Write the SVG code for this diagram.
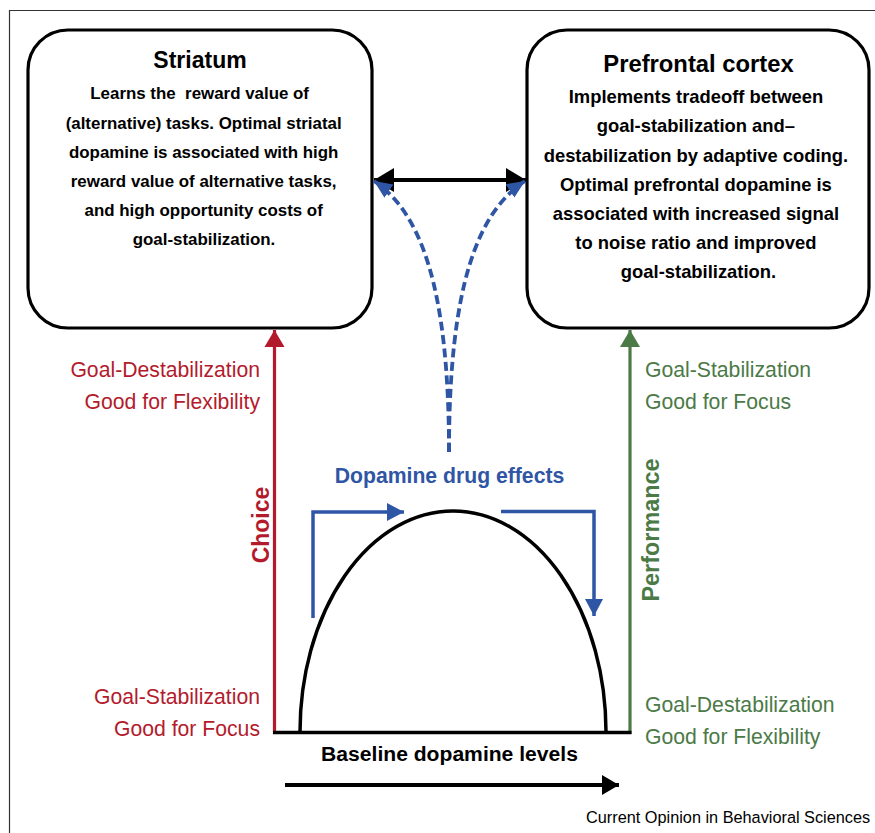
<svg xmlns="http://www.w3.org/2000/svg" width="875" height="833" viewBox="0 0 875 833">
<style>
.box{fill:#fff;stroke:#000;stroke-width:3.2}
.t{font-family:"Liberation Sans",Arial,sans-serif;font-weight:bold;fill:#000;text-anchor:middle}
.lab{font-family:"Liberation Sans",Arial,sans-serif;font-size:21.2px}
.red{fill:#b31b2d}
.green{fill:#4b7a47}
.blue{fill:#2f55a5}
</style>
<defs>
<marker id="hBlack" markerUnits="userSpaceOnUse" markerWidth="22" markerHeight="26" refX="20" refY="12" orient="auto-start-reverse" viewBox="0 0 22 24">
<path d="M0,0 L20,12 L0,24 z" fill="#000"/>
</marker>
<marker id="hBlue" markerUnits="userSpaceOnUse" markerWidth="20" markerHeight="18" refX="18" refY="8" orient="auto" viewBox="0 0 20 16">
<path d="M0,0 L18,8 L0,16 z" fill="#2f55a5"/>
</marker>
<marker id="hBlueStep" markerUnits="userSpaceOnUse" markerWidth="18" markerHeight="20" refX="17" refY="9" orient="auto" viewBox="0 0 18 18">
<path d="M0,0 L17,9 L0,18 z" fill="#2f55a5"/>
</marker>
<marker id="hRed" markerUnits="userSpaceOnUse" markerWidth="18" markerHeight="22" refX="17" refY="10" orient="auto" viewBox="0 0 18 20">
<path d="M0,0 L17,10 L0,20 z" fill="#b31b2d"/>
</marker>
<marker id="hGreen" markerUnits="userSpaceOnUse" markerWidth="18" markerHeight="22" refX="17" refY="10" orient="auto" viewBox="0 0 18 20">
<path d="M0,0 L17,10 L0,20 z" fill="#4b7a47"/>
</marker>
<marker id="hAxis" markerUnits="userSpaceOnUse" markerWidth="18" markerHeight="22" refX="17" refY="10" orient="auto" viewBox="0 0 18 20">
<path d="M0,0 L17,10 L0,20 z" fill="#000"/>
</marker>
</defs>
<rect width="875" height="833" fill="#fff"/>
<path d="M9.5,833 V10.5 H875" fill="none" stroke="#333" stroke-width="1.2"/>

<g id="striatum">
<rect class="box" x="28" y="30" width="344" height="298" rx="40" ry="40"/>
<text class="t" x="200" y="68" font-size="23">Striatum</text>
<text class="t" font-size="16.9">
<tspan x="202" y="99" xml:space="preserve">Learns the  reward value of</tspan>
<tspan x="206" y="128.5">(alternative) tasks. Optimal striatal</tspan>
<tspan x="206" y="158">dopamine is associated with high</tspan>
<tspan x="206" y="187">reward value of alternative tasks,</tspan>
<tspan x="206" y="216">and high opportunity costs of</tspan>
<tspan x="204" y="245">goal-stabilization.</tspan>
</text>
</g>

<g id="prefrontal">
<rect class="box" x="527" y="30" width="342" height="298" rx="40" ry="40"/>
<text class="t" x="698.5" y="72" font-size="23.8">Prefrontal cortex</text>
<text class="t" font-size="18.4">
<tspan x="698.5" y="103">Implements tradeoff between</tspan>
<tspan x="698.5" y="132">goal-stabilization and–</tspan>
<tspan x="698.5" y="161.5">destabilization by adaptive coding.</tspan>
<tspan x="698.5" y="190.5">Optimal prefrontal dopamine is</tspan>
<tspan x="698.5" y="219.5">associated with increased signal</tspan>
<tspan x="698.5" y="248.5">to noise ratio and improved</tspan>
<tspan x="698.5" y="277.5">goal-stabilization.</tspan>
</text>
</g>

<g id="connectors">
<line x1="374" y1="180" x2="526" y2="180" stroke="#000" stroke-width="4" marker-start="url(#hBlack)" marker-end="url(#hBlack)"/>
<path d="M449,452 C449,285 420,212 374,181" fill="none" stroke="#2f55a5" stroke-width="3.8" stroke-dasharray="9 4.5" marker-end="url(#hBlue)"/>
<path d="M449,452 C449,285 478,212 525,181" fill="none" stroke="#2f55a5" stroke-width="3.8" stroke-dasharray="9 4.5" marker-end="url(#hBlue)"/>
<line x1="274.5" y1="734" x2="274.5" y2="330" stroke="#b31b2d" stroke-width="3.2" marker-end="url(#hRed)"/>
<line x1="630" y1="734" x2="630" y2="330" stroke="#4b7a47" stroke-width="3.2" marker-end="url(#hGreen)"/>
<line x1="273" y1="732.5" x2="631.5" y2="732.5" stroke="#000" stroke-width="3.5"/>
<line x1="285" y1="785" x2="619" y2="785" stroke="#000" stroke-width="4" marker-end="url(#hAxis)"/>
<path d="M313,618 V512 H404" fill="none" stroke="#2f55a5" stroke-width="3.5" marker-end="url(#hBlueStep)"/>
<path d="M501,511.5 H594 V616" fill="none" stroke="#2f55a5" stroke-width="3.5" marker-end="url(#hBlueStep)"/>
</g>

<g id="curve">
<path d="M300,732 A153,221 0 0 1 606,732" fill="none" stroke="#000" stroke-width="3.5"/>
</g>

<g id="labels">
<text class="lab red" x="260" y="377" text-anchor="end">Goal-Destabilization</text>
<text class="lab red" x="260" y="409" text-anchor="end">Good for Flexibility</text>
<text class="lab red" x="260" y="704" text-anchor="end">Goal-Stabilization</text>
<text class="lab red" x="260" y="736" text-anchor="end">Good for Focus</text>
<text class="lab green" x="645" y="377">Goal-Stabilization</text>
<text class="lab green" x="645" y="409">Good for Focus</text>
<text class="lab green" x="645" y="712">Goal-Destabilization</text>
<text class="lab green" x="645" y="744">Good for Flexibility</text>
<text class="t red" font-size="23" transform="translate(268.5,525) rotate(-90)">Choice</text>
<text class="t green" font-size="23.4" transform="translate(659,530) rotate(-90)">Performance</text>
<text class="t blue" x="449.5" y="483" font-size="21.2">Dopamine drug effects</text>
<text class="t" x="449.5" y="761" font-size="21.1">Baseline dopamine levels</text>
<text x="586" y="823" font-family="'Liberation Sans',Arial,sans-serif" font-size="16.3" fill="#000">Current Opinion in Behavioral Sciences</text>
</g>
</svg>
